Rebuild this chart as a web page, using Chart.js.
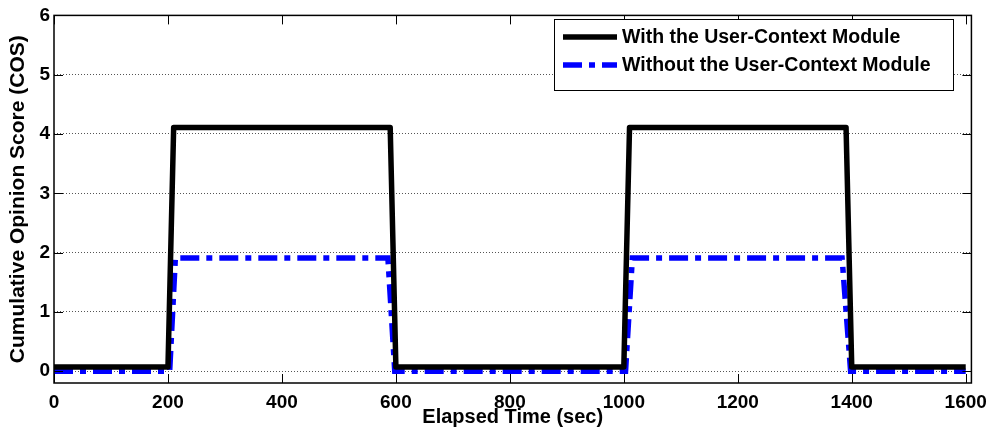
<!DOCTYPE html>
<html>
<head>
<meta charset="utf-8">
<script src="https://cdn.jsdelivr.net/npm/chart.js@4.4.1/dist/chart.umd.min.js"></script>
<style>
  body { margin: 0; background: #fff; }
  #wrap { width: 995px; height: 439px; }
</style>
</head>
<body>
<div id="wrap"><canvas id="graficaCos"></canvas></div>
<script>
// Datos
const xTicks = [0, 200, 400, 600, 800, 1000, 1200, 1400, 1600];
const yTicks = [0, 1, 2, 3, 4, 5, 6];

const withTime = [0, 200, 210, 590, 600, 1000, 1010, 1390, 1400, 1600];
const withCos  = [0.07, 0.07, 4.11, 4.11, 0.07, 0.07, 4.11, 4.11, 0.07, 0.07];

const withoutTime = [0, 203, 213, 586, 598, 1003, 1015, 1383, 1398, 1600];
const withoutCos  = [0, 0, 1.91, 1.91, 0, 0, 1.91, 1.91, 0, 0];

const seriesLabels = ['With the User-Context Module', 'Without the User-Context Module'];

const fuente = 'Liberation Sans, Arial, Helvetica, sans-serif';
const blueDash = [19, 7, 6, 7];

function toPoints(xs, ys) {
    return xs.map(function(v, i) { return { x: v, y: ys[i] }; });
}

// Caja de ejes, marcas hacia dentro y leyenda dentro del area
const marco = {
    id: 'marco',
    afterDraw(chart) {
        const ctx = chart.ctx;
        const a = chart.chartArea;
        const sx = chart.scales.x;
        const sy = chart.scales.y;
        const tl = 9;

        ctx.save();
        ctx.strokeStyle = '#000';
        ctx.lineWidth = 1.5;
        ctx.setLineDash([]);
        ctx.strokeRect(a.left, a.top, a.right - a.left, a.bottom - a.top);

        ctx.lineWidth = 1;
        ctx.beginPath();
        xTicks.forEach(function(v) {
            const px = Math.round(sx.getPixelForValue(v)) + 0.5;
            ctx.moveTo(px, a.bottom); ctx.lineTo(px, a.bottom - tl);
            ctx.moveTo(px, a.top); ctx.lineTo(px, a.top + tl);
        });
        yTicks.forEach(function(v) {
            const py = Math.round(sy.getPixelForValue(v)) + 0.5;
            ctx.moveTo(a.left, py); ctx.lineTo(a.left + tl, py);
            ctx.moveTo(a.right, py); ctx.lineTo(a.right - tl, py);
        });
        ctx.stroke();

        // Leyenda
        const lx = 554, ly = 19, lw = 399, lh = 71;
        ctx.fillStyle = '#fff';
        ctx.fillRect(lx, ly, lw, lh);
        ctx.strokeStyle = '#000';
        ctx.lineWidth = 1;
        ctx.strokeRect(lx + 0.5, ly + 0.5, lw, lh);

        const rows = [37, 65];
        chart.data.datasets.forEach(function(ds, i) {
            ctx.beginPath();
            ctx.strokeStyle = ds.borderColor;
            ctx.lineWidth = ds.borderWidth;
            ctx.setLineDash(ds.borderDash || []);
            ctx.moveTo(563, rows[i]);
            ctx.lineTo(617, rows[i]);
            ctx.stroke();
            ctx.setLineDash([]);
            ctx.fillStyle = '#000';
            ctx.font = 'bold 19.5px ' + fuente;
            ctx.textBaseline = 'middle';
            ctx.textAlign = 'left';
            ctx.fillText(ds.label, 622, rows[i] + 1);
        });
        ctx.restore();
    }
};

const data = {
    datasets: [{
        label: seriesLabels[0],
        data: toPoints(withTime, withCos),
        borderColor: '#000000',
        borderWidth: 5.5,
        borderJoinStyle: 'round',
        pointRadius: 0,
        fill: false,
        tension: 0
    }, {
        label: seriesLabels[1],
        data: toPoints(withoutTime, withoutCos),
        borderColor: '#0000ff',
        borderWidth: 5.5,
        borderDash: blueDash,
        borderCapStyle: 'butt',
        pointRadius: 0,
        fill: false,
        tension: 0
    }]
};

const config = {
    type: 'line',
    data: data,
    options: {
        responsive: true,
        maintainAspectRatio: false,
        animation: false,
        layout: { padding: { top: 12, right: 23, left: 0, bottom: 0 } },
        plugins: {
            legend: { display: false },
            tooltip: { enabled: false }
        },
        scales: {
            x: {
                type: 'linear',
                min: 0,
                max: 1610,
                afterBuildTicks: function(scale) {
                    scale.ticks = xTicks.map(function(v) { return { value: v }; });
                },
                afterFit: function(scale) { scale.height = 56; },
                grid: { display: false, drawTicks: false },
                border: { display: false },
                ticks: {
                    color: '#000',
                    padding: 8,
                    maxRotation: 0,
                    autoSkip: false,
                    callback: function(v) { return String(v); },
                    font: { family: fuente, size: 19, weight: 'bold' }
                },
                title: {
                    display: true,
                    text: 'Elapsed Time (sec)',
                    color: '#000',
                    padding: { top: 0, bottom: 10 },
                    font: { family: fuente, size: 20, weight: 'bold' }
                }
            },
            y: {
                min: -0.2,
                max: 6,
                afterBuildTicks: function(scale) {
                    scale.ticks = yTicks.map(function(v) { return { value: v }; });
                },
                afterFit: function(scale) { scale.width = 54; },
                grid: { color: '#555', lineWidth: 1, drawTicks: false },
                border: { display: false, dash: [1, 2] },
                ticks: {
                    color: '#000',
                    padding: 4,
                    callback: function(v) { return String(v); },
                    font: { family: fuente, size: 19, weight: 'bold' }
                },
                title: {
                    display: true,
                    text: 'Cumulative Opinion Score (COS)',
                    color: '#000',
                    padding: { top: 6, bottom: 0 },
                    font: { family: fuente, size: 21, weight: 'bold' }
                }
            }
        }
    },
    plugins: [marco]
};

const myChart = new Chart(document.getElementById('graficaCos'), config);
</script>
</body>
</html>
